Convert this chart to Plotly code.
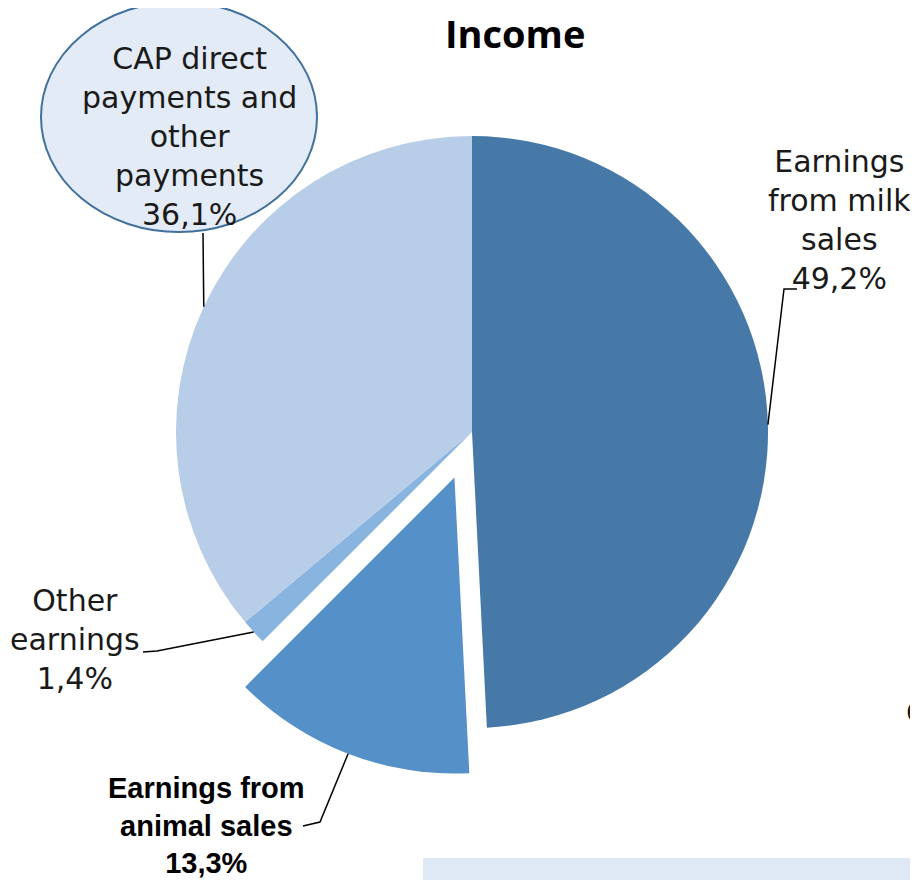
import math
import plotly.graph_objects as go

# page window is 918x880, but the html body adds an 8px margin
W, H = 918, 880
PAD = 8
FW, FH = W - PAD, H - PAD

labels = ["Earnings from milk sales", "Earnings from animal sales",
          "Other earnings", "CAP direct payments and other payments"]
values = [49.2, 13.3, 1.4, 36.1]
colors = ["#4679A8", "#5591C8", "#8AB4E0", "#B8CDE8"]
pulls = [0, 0.165, 0, 0]

# pie geometry in window pixels
CX, CY, R = 472, 432, 296
box = 2 * R * (1 + max(pulls))


def px(x, y):
    return (x - PAD) / FW, 1 - (y - PAD) / FH


def fmt(v):
    return f"{v:.1f}".replace(".", ",") + "%"


def anchor(i):
    # point on the slice edge at its mid angle (clockwise from top)
    total = sum(values)
    start = sum(values[:i]) / total
    mid = (start + values[i] / total / 2) * 2 * math.pi
    dx, dy = math.sin(mid), -math.cos(mid)
    off = pulls[i] * R
    return CX + dx * (R + off), CY + dy * (R + off)


dx0, dy1 = px(CX - box / 2, CY - box / 2)
dx1, dy0 = px(CX + box / 2, CY + box / 2)

fig = go.Figure(go.Pie(labels=labels, values=values, sort=False,
                       direction="clockwise", rotation=0,
                       marker=dict(colors=colors, line=dict(width=0)),
                       pull=pulls, textinfo="none", hoverinfo="label+percent",
                       showlegend=False,
                       domain=dict(x=[dx0, dx1], y=[dy0, dy1])))

shapes = []


def leader(points):
    pts = [px(*p) for p in points]
    path = "M " + " L ".join(f"{x},{y}" for x, y in pts)
    shapes.append(dict(type="path", xref="paper", yref="paper", path=path,
                       line=dict(color="black", width=1.5)))


leader([anchor(0), (784, 289), (797, 289)])
leader([anchor(1), (320, 822), (303, 826)])
leader([anchor(2), (157, 651), (143, 652)])
leader([anchor(3), (203, 233)])

# callout ellipse
x0, y1 = px(41, 2)
x1, y0 = px(317, 232)
shapes.append(dict(type="circle", xref="paper", yref="paper",
                   x0=x0, x1=x1, y0=y0, y1=y1, fillcolor="#E3EBF6",
                   line=dict(color="#41719C", width=2), layer="above"))

# cut-off neighbour box at the bottom
bx0, by1 = px(423, 858)
bx1, by0 = px(W, H)
shapes.append(dict(type="rect", xref="paper", yref="paper",
                   x0=bx0, x1=bx1, y0=by0, y1=by1,
                   fillcolor="#DEE9F5", line=dict(width=0)))

reg = dict(family="DejaVu Sans", size=30, color="#1a1a1a")
bold = dict(family="Liberation Sans", size=29, color="black", weight="bold")

annots = []


def note(text, x, y, font):
    ax, ay = px(x, y)
    annots.append(dict(text=text, x=ax, y=ay, xref="paper", yref="paper",
                       showarrow=False, font=font, align="center",
                       xanchor="center", yanchor="middle"))


note("Earnings<br>from milk<br>sales<br>" + fmt(values[0]), 839, 220, reg)
note("<b>Earnings from<br>animal sales<br>" + fmt(values[1]) + "</b>", 206, 825, bold)
note("Other<br>earnings<br>" + fmt(values[2]), 75, 639, reg)
note("CAP direct<br>payments and<br>other<br>payments<br>" + fmt(values[3]), 189, 137, reg)
note("<b>Income</b>", 515, 33, dict(family="Open Sans", size=38, color="black"))

# sliver of a neighbouring chart's label at the right edge
cx_, cy_ = px(904, 712)
annots.append(dict(text="C", x=cx_, y=cy_, xref="paper", yref="paper",
                   showarrow=False, xanchor="left", yanchor="middle", font=reg))

fig.update_layout(width=FW, height=FH, margin=dict(l=0, r=0, t=0, b=0),
                  paper_bgcolor="white", plot_bgcolor="white",
                  shapes=shapes, annotations=annots)

fig.write_html("out.html")
